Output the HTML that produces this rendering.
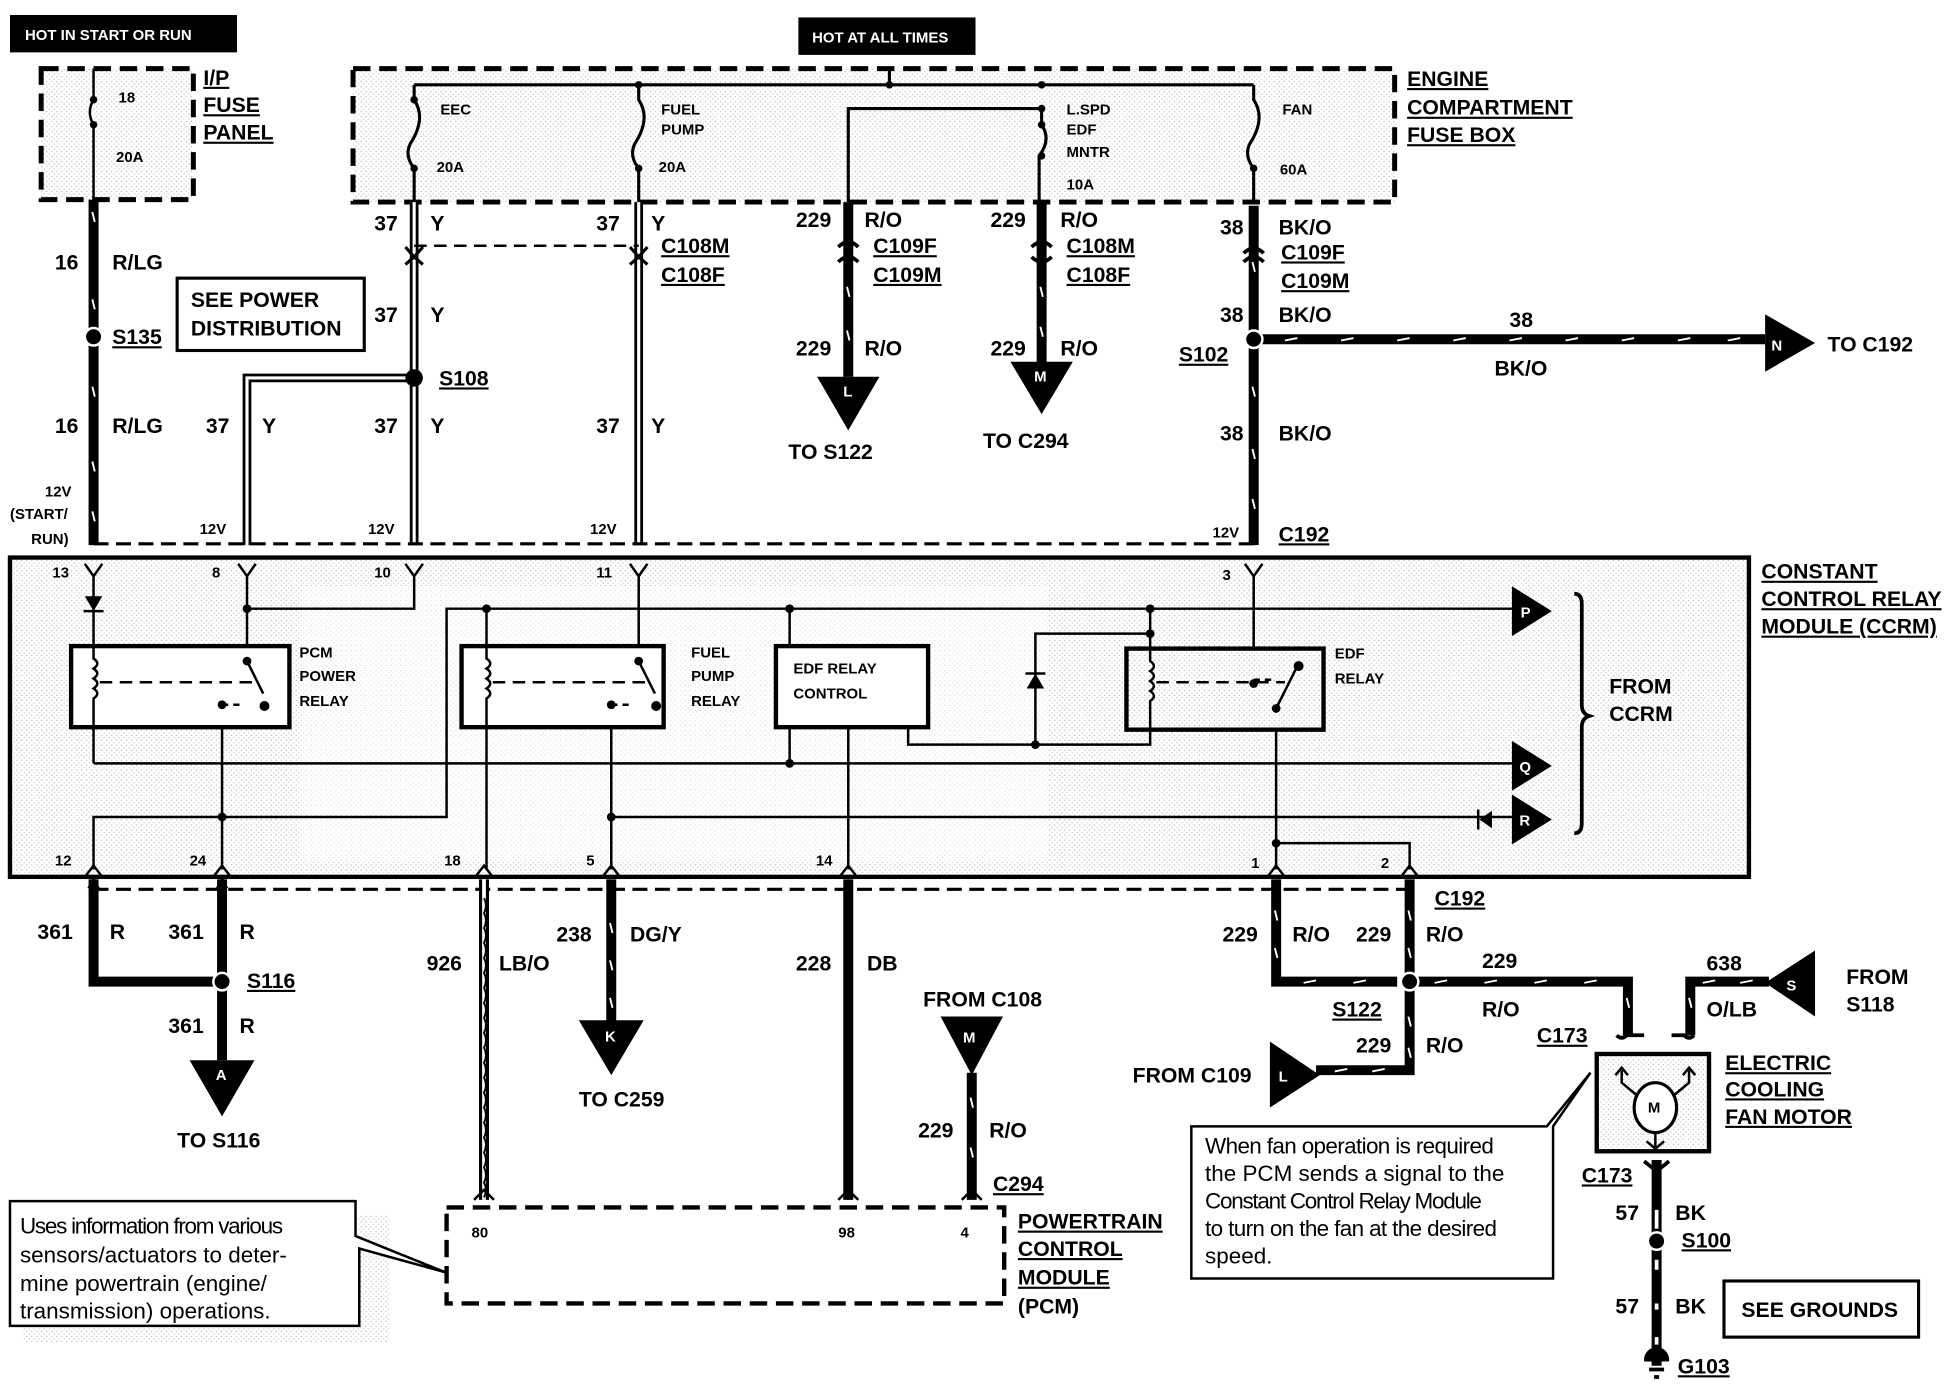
<!DOCTYPE html>
<html><head><meta charset="utf-8"><style>
html,body{margin:0;padding:0;background:#fff}
svg{display:block}
text{font-family:"Liberation Sans",Arial,sans-serif;font-weight:bold;fill:#000}
.s{font-size:16px}
.m{font-size:17px}
.t{font-size:12px}
.n{font-size:18px;font-weight:normal}
.u{text-decoration:underline}
</style></head><body>
<svg width="1956" height="1392" viewBox="0 0 1568 1116" preserveAspectRatio="none" xmlns="http://www.w3.org/2000/svg">
<defs>
<pattern id="dot" width="4" height="4" patternUnits="userSpaceOnUse"><rect width="4" height="4" fill="#fff"/><rect x="1" y="1" width="1" height="1" fill="#bbb"/><rect x="3" y="3" width="1" height="1" fill="#ccc"/></pattern>
</defs>
<rect width="1568" height="1116" fill="#fff"/>

<rect x="8" y="12" width="182" height="30" fill="#000"/>
<text x="20" y="32" class="t" style="fill:#fff">HOT IN START OR RUN</text>
<rect x="640" y="14" width="142" height="30" fill="#000"/>
<text x="651" y="34" class="t" style="fill:#fff">HOT AT ALL TIMES</text>

<rect x="33" y="55" width="122" height="105" fill="url(#dot)" stroke="#000" stroke-width="4" stroke-dasharray="14,7"/>
<path d="M75 55 V80 M75 100 V160" stroke="#000" stroke-width="2"/>
<path d="M75 80 q-6 10 0 20" stroke="#000" stroke-width="2" fill="none"/>
<circle cx="75" cy="80" r="3"/><circle cx="75" cy="100" r="3"/>
<text x="95" y="82" class="t">18</text><text x="93" y="130" class="t">20A</text>
<text x="163" y="68" class="m u">I/P</text><text x="163" y="90" class="m u">FUSE</text><text x="163" y="112" class="m u">PANEL</text>

<rect x="283" y="55" width="835" height="107" fill="url(#dot)" stroke="#000" stroke-width="4" stroke-dasharray="14,7"/>
<path d="M332 68 H1005 M713 55 V68 M680 162 V87 H835" stroke="#000" stroke-width="2.5" fill="none"/>
<circle cx="713" cy="68" r="3"/><circle cx="512" cy="68" r="3"/><circle cx="835" cy="68" r="3"/><circle cx="835" cy="87" r="3"/>
<g stroke="#000" stroke-width="2.5" fill="none">
<path d="M332 68 V80 q10 15 -3 35 q-5 10 3 20 V162"/>
<path d="M512 68 V80 q10 15 -3 35 q-5 10 3 20 V162"/>
<path d="M835 87 V100 q8 12 -2 25 V162"/>
<path d="M1005 68 V80 q10 15 -3 35 q-5 10 3 20 V162"/>
</g>
<circle cx="332" cy="80" r="3"/><circle cx="332" cy="135" r="3"/><circle cx="512" cy="135" r="3"/><circle cx="835" cy="100" r="3"/><circle cx="835" cy="125" r="3"/><circle cx="1005" cy="135" r="3"/>
<text x="353" y="92" class="t">EEC</text><text x="350" y="138" class="t">20A</text>
<text x="530" y="92" class="t">FUEL</text><text x="530" y="108" class="t">PUMP</text><text x="528" y="138" class="t">20A</text>
<text x="855" y="92" class="t">L.SPD</text><text x="855" y="108" class="t">EDF</text><text x="855" y="126" class="t">MNTR</text><text x="855" y="152" class="t">10A</text>
<text x="1028" y="92" class="t">FAN</text><text x="1026" y="140" class="t">60A</text>
<text x="1128" y="69" class="m u">ENGINE</text><text x="1128" y="92" class="m u">COMPARTMENT</text><text x="1128" y="114" class="m u">FUSE BOX</text>

<g stroke="#000" stroke-width="8" fill="none">
<path d="M75 160 V437"/>
<path d="M680 162 V302"/>
<path d="M835 162 V292"/>
<path d="M1005 165 V437"/>
<path d="M1005 272 H1415"/>
</g>
<g stroke="#fff" stroke-width="1.5">
<path d="M74 170 l2 8 M74 240 l2 8 M74 310 l2 8 M74 370 l2 8 M74 410 l2 8 M679 230 l2 8 M679 265 l2 8 M834 230 l2 8 M834 262 l2 8 M1004 210 l2 8 M1004 310 l2 8 M1004 360 l2 8 M1004 400 l2 8"/>
<path d="M1030 273 l10 -2 M1075 273 l10 -2 M1120 273 l10 -2 M1165 273 l10 -2 M1210 273 l10 -2 M1255 273 l10 -2 M1300 273 l10 -2 M1345 273 l10 -2 M1385 273 l10 -2"/>
</g>
<circle cx="75" cy="270" r="7" stroke="#fff" stroke-width="2"/>
<circle cx="1005" cy="272" r="7" stroke="#fff" stroke-width="2"/>
<polygon points="1415,252 1455,275 1415,298"/>
<text x="1420" y="281" class="t" style="fill:#fff">N</text>
<text x="1465" y="282" class="m">TO C192</text>
<polygon points="655,302 705,302 680,345"/><text x="676" y="318" class="t" style="fill:#fff">L</text>
<polygon points="810,290 860,290 835,332"/><text x="829" y="306" class="t" style="fill:#fff">M</text>
<path d="M672 198 q8 -8 16 0 M827 198 q8 -8 16 0 M997 203 q8 -8 16 0" stroke="#000" stroke-width="3" fill="none"/>
<path d="M672 210 q8 -8 16 0 M827 206 q8 8 16 0 M997 210 q8 -8 16 0" stroke="#000" stroke-width="3" fill="none"/>

<g stroke="#000" stroke-width="7" fill="none">
<path d="M332 162 V437"/><path d="M512 162 V437"/><path d="M332 303 H198 V437"/>
</g>
<g stroke="#fff" stroke-width="2.5" fill="none">
<path d="M332 162 V437"/><path d="M512 162 V437"/><path d="M330 303 H198 V437"/>
</g>
<circle cx="332" cy="303" r="7"/>
<path d="M332 197 H512" stroke="#000" stroke-width="2" stroke-dasharray="10,6"/>
<path d="M325 198 l7 8 l7 -8 M505 198 l7 8 l7 -8 M325 212 l7 -6 l7 6 M505 212 l7 -6 l7 6" stroke="#000" stroke-width="2.5" fill="none"/>

<rect x="142" y="223" width="150" height="58" fill="#fff" stroke="#000" stroke-width="2.5"/>
<text x="153" y="246" class="m">SEE POWER</text><text x="153" y="269" class="m">DISTRIBUTION</text>

<text x="300" y="185" class="m">37</text><text x="345" y="185" class="m">Y</text>
<text x="478" y="185" class="m">37</text><text x="522" y="185" class="m">Y</text>
<text x="530" y="203" class="m u">C108M</text><text x="530" y="226" class="m u">C108F</text>
<text x="300" y="258" class="m">37</text><text x="345" y="258" class="m">Y</text>
<text x="352" y="309" class="m u">S108</text>
<text x="165" y="347" class="m">37</text><text x="210" y="347" class="m">Y</text>
<text x="300" y="347" class="m">37</text><text x="345" y="347" class="m">Y</text>
<text x="478" y="347" class="m">37</text><text x="522" y="347" class="m">Y</text>
<text x="44" y="216" class="m">16</text><text x="90" y="216" class="m">R/LG</text>
<text x="90" y="276" class="m u">S135</text>
<text x="44" y="347" class="m">16</text><text x="90" y="347" class="m">R/LG</text>
<text x="36" y="398" class="t">12V</text><text x="8" y="416" class="t">(START/</text><text x="25" y="436" class="t">RUN)</text>
<text x="160" y="428" class="t">12V</text><text x="295" y="428" class="t">12V</text><text x="473" y="428" class="t">12V</text><text x="972" y="431" class="t">12V</text>
<text x="638" y="182" class="m">229</text><text x="693" y="182" class="m">R/O</text>
<text x="700" y="203" class="m u">C109F</text><text x="700" y="226" class="m u">C109M</text>
<text x="638" y="285" class="m">229</text><text x="693" y="285" class="m">R/O</text>
<text x="632" y="368" class="m">TO S122</text>
<text x="794" y="182" class="m">229</text><text x="850" y="182" class="m">R/O</text>
<text x="855" y="203" class="m u">C108M</text><text x="855" y="226" class="m u">C108F</text>
<text x="794" y="285" class="m">229</text><text x="850" y="285" class="m">R/O</text>
<text x="788" y="359" class="m">TO C294</text>
<text x="978" y="188" class="m">38</text><text x="1025" y="188" class="m">BK/O</text>
<text x="1027" y="208" class="m u">C109F</text><text x="1027" y="231" class="m u">C109M</text>
<text x="978" y="258" class="m">38</text><text x="1025" y="258" class="m">BK/O</text>
<text x="945" y="290" class="m u">S102</text>
<text x="1210" y="262" class="m">38</text><text x="1198" y="301" class="m">BK/O</text>
<text x="978" y="353" class="m">38</text><text x="1025" y="353" class="m">BK/O</text>
<text x="1025" y="434" class="m u">C192</text>

<path d="M75 436 H1005" stroke="#000" stroke-width="2.5" stroke-dasharray="12,6"/>

<rect x="8" y="447" width="1394" height="256" fill="url(#dot)" stroke="#000" stroke-width="3.5"/>
<rect x="240" y="470" width="600" height="220" fill="#fff" opacity="0.5"/>
<text x="1412" y="464" class="m u">CONSTANT</text><text x="1412" y="486" class="m u">CONTROL RELAY</text><text x="1412" y="508" class="m u">MODULE (CCRM)</text>
<g stroke="#000" stroke-width="2" fill="none">
<path d="M68 452 l7 10 l7 -10 M75 462 V612"/>
<path d="M191 452 l7 10 l7 -10 M198 462 V540"/>
<path d="M325 452 l7 10 l7 -10 M332 462 V488 H198"/>
<path d="M505 452 l7 10 l7 -10 M512 462 V536"/>
<path d="M998 452 l7 10 l7 -10 M1005 462 V548"/>
<path d="M75 697 V655 H358 V488 H1212"/>
<path d="M75 612 H1212"/>
<path d="M490 655 H1212"/>
<path d="M178 565 V697 M490 565 V697 M680 583 V697"/>
<path d="M633 488 V518 M633 583 V612"/>
<path d="M922 488 V520 M922 585 V597 H728 V583"/>
<path d="M922 508 H830 V597"/>
<path d="M390 488 V697"/>
<path d="M1023 568 V697 M1023 676 H1130 V697"/>
</g>
<circle cx="198" cy="488" r="3.5"/><circle cx="390" cy="488" r="3.5"/><circle cx="633" cy="488" r="3.5"/><circle cx="922" cy="488" r="3.5"/><circle cx="922" cy="508" r="3.5"/>
<circle cx="633" cy="612" r="3.5"/><circle cx="830" cy="597" r="3.5"/><circle cx="178" cy="655" r="3.5"/><circle cx="490" cy="655" r="3.5"/><circle cx="1023" cy="676" r="3.5"/>
<polygon points="68,478 82,478 75,490"/><path d="M67 490 H83" stroke="#000" stroke-width="2"/>
<polygon points="823,552 837,552 830,540"/><path d="M822 540 H838" stroke="#000" stroke-width="2"/>
<rect x="57" y="518" width="175" height="65" fill="#fff" stroke="#000" stroke-width="3.5"/>
<rect x="370" y="518" width="162" height="65" fill="#fff" stroke="#000" stroke-width="3.5"/>
<rect x="622" y="518" width="122" height="65" fill="#fff" stroke="#000" stroke-width="3.5"/>
<rect x="903" y="520" width="158" height="65" fill="url(#dot)" stroke="#000" stroke-width="3.5"/>
<g stroke="#000" stroke-width="2" fill="none">
<path d="M75 518 V528 q6 4 0 8 q6 4 0 8 q6 4 0 8 q6 4 0 8 V583"/>
<path d="M390 518 V528 q6 4 0 8 q6 4 0 8 q6 4 0 8 q6 4 0 8 V583"/>
<path d="M922 520 V530 q6 4 0 8 q6 4 0 8 q6 4 0 8 q6 4 0 8 V585"/>
<path d="M198 530 l13 26 M512 530 l13 26 M1023 568 l17 -34"/>
<path d="M80 547 H203 M395 547 H517 M927 547 H1030" stroke-dasharray="10,6"/>
<path d="M178 565 H195 M490 565 H507 M1005 545 H1020" stroke-dasharray="5,4"/>
</g>
<circle cx="198" cy="530" r="3.5"/><circle cx="212" cy="566" r="4"/><circle cx="178" cy="565" r="3.5"/>
<circle cx="512" cy="530" r="3.5"/><circle cx="526" cy="566" r="4"/><circle cx="490" cy="565" r="3.5"/>
<circle cx="1005" cy="548" r="3.5"/><circle cx="1041" cy="534" r="4"/><circle cx="1023" cy="568" r="3.5"/>
<text x="240" y="527" class="t">PCM</text><text x="240" y="546" class="t">POWER</text><text x="240" y="566" class="t">RELAY</text>
<text x="554" y="527" class="t">FUEL</text><text x="554" y="546" class="t">PUMP</text><text x="554" y="566" class="t">RELAY</text>
<text x="636" y="540" class="t">EDF RELAY</text><text x="636" y="560" class="t">CONTROL</text>
<text x="1070" y="528" class="t">EDF</text><text x="1070" y="548" class="t">RELAY</text>
<polygon points="1212,470 1244,490 1212,510"/><text x="1219" y="495" class="t" style="fill:#fff">P</text>
<polygon points="1212,594 1244,614 1212,634"/><text x="1218" y="619" class="t" style="fill:#fff">Q</text>
<polygon points="1212,637 1244,657 1212,677"/><text x="1218" y="662" class="t" style="fill:#fff">R</text>
<polygon points="1196,650 1196,664 1186,657"/><path d="M1185 649 V665" stroke="#000" stroke-width="2"/>
<path d="M1262 476 q6 0 6 8 V565 q0 7 6 9 q-6 2 -6 9 V660 q0 8 -6 8" stroke="#000" stroke-width="3" fill="none"/>
<text x="1290" y="556" class="m">FROM</text><text x="1290" y="578" class="m">CCRM</text>
<text x="42" y="463" class="t">13</text><text x="170" y="463" class="t">8</text><text x="300" y="463" class="t">10</text><text x="478" y="463" class="t">11</text><text x="980" y="465" class="t">3</text>
<g stroke="#000" stroke-width="2" fill="none">
<path d="M68 703 l7 -9 l7 9 M171 703 l7 -9 l7 9 M381 703 l7 -9 l7 9 M483 703 l7 -9 l7 9 M673 703 l7 -9 l7 9 M1016 703 l7 -9 l7 9 M1123 703 l7 -9 l7 9"/>
</g>
<text x="44" y="694" class="t">12</text><text x="152" y="694" class="t">24</text><text x="356" y="694" class="t">18</text><text x="470" y="694" class="t">5</text><text x="654" y="694" class="t">14</text><text x="1003" y="696" class="t">1</text><text x="1107" y="696" class="t">2</text>

<path d="M75 713 H1130" stroke="#000" stroke-width="2.5" stroke-dasharray="12,6"/>

<g stroke="#000" stroke-width="8" fill="none">
<path d="M75 705 V787 H172"/>
<path d="M178 705 V850"/>
<path d="M490 705 V820"/>
<path d="M680 705 V962"/>
<path d="M779 860 V962"/>
<path d="M1023 705 V787 H1120"/>
<path d="M1130 705 V858 H1055"/>
<path d="M1136 787 H1305 V830"/>
<path d="M1418 787 H1355 V830"/>
<path d="M1328 930 V1095"/>
</g>
<polygon points="70,712 80,712 75,702"/><polygon points="173,712 183,712 178,702"/>
<g stroke="#fff" stroke-width="1.5">
<path d="M489 740 l2 8 M489 770 l2 8 M489 800 l2 8 M778 880 l2 8 M778 920 l2 8 M1022 730 l2 8 M1022 760 l2 8 M1129 730 l2 8 M1129 760 l2 8 M1129 815 l2 8 M1129 840 l2 8 M1304 800 l2 8 M1354 800 l2 8"/>
<path d="M1045 788 l10 -2 M1085 788 l10 -2 M1150 788 l10 -2 M1190 788 l10 -2 M1230 788 l10 -2 M1270 788 l10 -2 M1365 788 l10 -2 M1395 788 l10 -2 M1070 859 l10 -2 M1100 859 l10 -2"/>
<path d="M1328 970 V985 M1328 1010 V1018 M1328 1045 V1050 M1328 1072 V1078" stroke-width="3"/>
</g>
<circle cx="178" cy="787" r="7" stroke="#fff" stroke-width="2"/>
<circle cx="1130" cy="787" r="7" stroke="#fff" stroke-width="2"/>
<circle cx="1328" cy="995" r="7" stroke="#fff" stroke-width="2"/>
<polygon points="152,850 204,850 178,895"/><text x="173" y="866" class="t" style="fill:#fff">A</text>
<polygon points="464,818 516,818 490,862"/><text x="485" y="835" class="t" style="fill:#fff">K</text>
<polygon points="754,815 804,815 779,862"/><text x="772" y="836" class="t" style="fill:#fff">M</text>
<polygon points="1018,835 1018,888 1058,862"/><text x="1025" y="867" class="t" style="fill:#fff">L</text>
<polygon points="1455,762 1455,815 1415,788"/><text x="1432" y="794" class="t" style="fill:#fff">S</text>
<path d="M388 705 V962" stroke="#000" stroke-width="8"/>
<path d="M388 705 V962" stroke="#fff" stroke-width="3"/>
<path d="M388 720 q3 6 0 12 q3 6 0 12 q3 6 0 12 q3 6 0 12 q3 6 0 12 q3 6 0 12 q3 6 0 12 q3 6 0 12 q3 6 0 12 q3 6 0 12 q3 6 0 12 q3 6 0 12 q3 6 0 12 q3 6 0 12 q3 6 0 12 q3 6 0 12 q3 6 0 12 q3 6 0 12 q3 6 0 12 q3 6 0 12" stroke="#000" stroke-width="1.5" fill="none"/>
<path d="M380 962 l8 -8 l8 8 M672 962 l8 -8 l8 8 M771 962 l8 -8 l8 8" stroke="#000" stroke-width="2" fill="none"/>
<path d="M1296 830 q4 4 8 0 h14 M1340 830 h10 q4 4 8 0" stroke="#000" stroke-width="3" fill="none"/>
<rect x="1280" y="845" width="90" height="78" fill="url(#dot)" stroke="#000" stroke-width="3.5"/>
<ellipse cx="1327" cy="888" rx="17" ry="20" fill="#fff" stroke="#000" stroke-width="2.5"/>
<text x="1321" y="892" class="t">M</text>
<path d="M1300 858 V868 l12 10 M1354 858 V868 l-12 10 M1327 908 V922 M1320 915 l7 6 l7 -6 M1295 862 l5 -6 l5 6 M1349 862 l5 -6 l5 6" stroke="#000" stroke-width="2" fill="none"/>
<path d="M1318 931 l10 8 l10 -8" stroke="#000" stroke-width="3" fill="none"/>
<path d="M1318 1090 h20 M1322 1098 h12 M1326 1104 h4" stroke="#000" stroke-width="3"/>
<path d="M1318 1090 a10 10 0 0 1 20 0 z"/>
<text x="1383" y="858" class="m u">ELECTRIC</text><text x="1383" y="879" class="m u">COOLING</text><text x="1383" y="901" class="m u">FAN MOTOR</text>

<text x="30" y="753" class="m">361</text><text x="88" y="753" class="m">R</text>
<text x="135" y="753" class="m">361</text><text x="192" y="753" class="m">R</text>
<text x="198" y="792" class="m u">S116</text>
<text x="135" y="828" class="m">361</text><text x="192" y="828" class="m">R</text>
<text x="142" y="920" class="m">TO S116</text>
<text x="342" y="778" class="m">926</text><text x="400" y="778" class="m">LB/O</text>
<text x="446" y="755" class="m">238</text><text x="505" y="755" class="m">DG/Y</text>
<text x="464" y="887" class="m">TO C259</text>
<text x="638" y="778" class="m">228</text><text x="695" y="778" class="m">DB</text>
<text x="740" y="807" class="m">FROM C108</text>
<text x="736" y="912" class="m">229</text><text x="793" y="912" class="m">R/O</text>
<text x="796" y="955" class="m u">C294</text>
<text x="980" y="755" class="m">229</text><text x="1036" y="755" class="m">R/O</text>
<text x="1087" y="755" class="m">229</text><text x="1143" y="755" class="m">R/O</text>
<text x="1150" y="726" class="m u">C192</text>
<text x="1188" y="776" class="m">229</text><text x="1188" y="815" class="m">R/O</text>
<text x="1068" y="815" class="m u">S122</text>
<text x="1087" y="844" class="m">229</text><text x="1143" y="844" class="m">R/O</text>
<text x="908" y="868" class="m">FROM C109</text>
<text x="1232" y="836" class="m u">C173</text>
<text x="1368" y="778" class="m">638</text><text x="1368" y="815" class="m">O/LB</text>
<text x="1480" y="789" class="m">FROM</text><text x="1480" y="811" class="m">S118</text>
<text x="1268" y="948" class="m u">C173</text>
<text x="1295" y="978" class="m">57</text><text x="1343" y="978" class="m">BK</text>
<text x="1348" y="1000" class="m u">S100</text>
<text x="1295" y="1053" class="m">57</text><text x="1343" y="1053" class="m">BK</text>
<text x="1345" y="1101" class="m u">G103</text>
<rect x="1382" y="1027" width="156" height="45" fill="#fff" stroke="#000" stroke-width="2.5"/>
<text x="1396" y="1056" class="m">SEE GROUNDS</text>

<rect x="358" y="968" width="447" height="77" fill="#fff" stroke="#000" stroke-width="3.5" stroke-dasharray="14,7"/>
<text x="378" y="992" class="t">80</text><text x="672" y="992" class="t">98</text><text x="770" y="992" class="t">4</text>
<text x="816" y="985" class="m u">POWERTRAIN</text><text x="816" y="1007" class="m u">CONTROL</text><text x="816" y="1030" class="m u">MODULE</text><text x="816" y="1053" class="m">(PCM)</text>

<rect x="14" y="968" width="294" height="102" fill="url(#dot)" stroke="none" transform="translate(4,6)"/>
<path d="M8 963 H285 V991 L357 1020 L288 1001 V1063 H8 Z" fill="#fff" stroke="#000" stroke-width="2"/>
<text x="16" y="989" class="n" style="letter-spacing:-1px">Uses information from various</text>
<text x="16" y="1012" class="n">sensors/actuators  to  deter-</text>
<text x="16" y="1035" class="n">mine   powertrain   (engine/</text>
<text x="16" y="1057" class="n">transmission) operations.</text>
<path d="M955 903 H1240 L1275 860 L1245 903 V1025 H955 Z" fill="#fff" stroke="#000" stroke-width="2"/>
<text x="966" y="925" class="n" style="letter-spacing:-0.5px">When fan operation is required</text>
<text x="966" y="947" class="n">the PCM sends a signal to the</text>
<text x="966" y="969" class="n" style="letter-spacing:-1px">Constant Control Relay Module</text>
<text x="966" y="991" class="n" style="letter-spacing:-0.5px">to turn on the fan at the desired</text>
<text x="966" y="1013" class="n">speed.</text>
</svg>
</body></html>
